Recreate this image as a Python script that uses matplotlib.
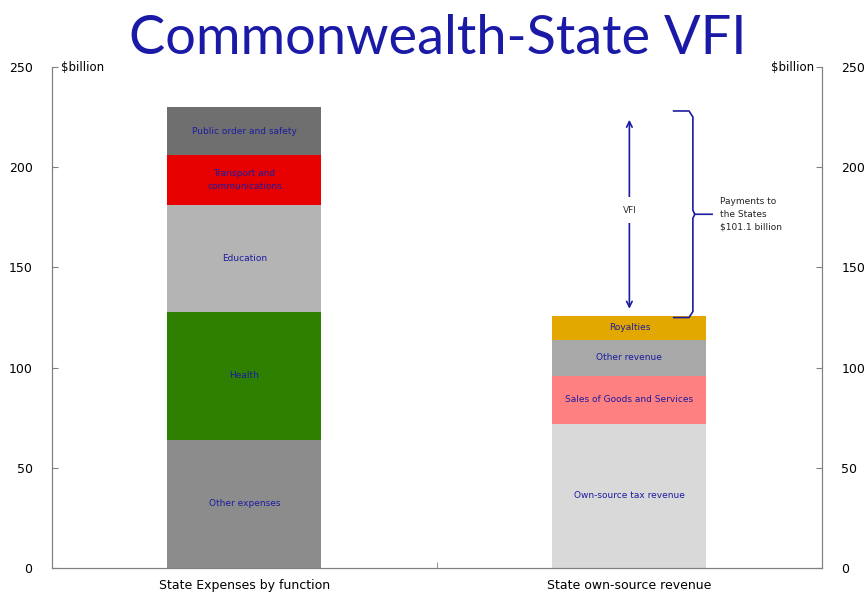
# Commonwealth-State VFI chart
import matplotlib.pyplot as plt
import numpy as np

# data ($billion)
categories = ["State Expenses by function", "State own-source revenue"]

expense_labels = ["Other expenses", "Health", "Education",
                  "Transport and\ncommunications", "Public order and safety"]
expense_values = [64, 64, 53, 25, 24]
expense_colors = ["#8c8c8c", "#2f8000", "#b4b4b4", "#e60000", "#6f6f6f"]

revenue_labels = ["Own-source tax revenue", "Sales of Goods and Services",
                  "Other revenue", "Royalties"]
revenue_values = [72, 24, 18, 12]
revenue_colors = ["#d9d9d9", "#ff8080", "#a8a8a8", "#e3a800"]

payments = 101.1

fig = plt.figure(figsize=(8.66, 5.97), dpi=100)
ax = fig.add_axes([0.060, 0.0486, 0.889, 0.839])

txt_col = "#1c1ca0"
width = 0.4

def stack(x, values, labels, colors):
    # draw one stacked bar with labels centred in each piece
    bottom = 0
    for v, lab, c in zip(values, labels, colors):
        ax.bar(x, v, width, bottom=bottom, color=c, edgecolor="none")
        ax.text(x, bottom + v / 2, lab, ha="center", va="center",
                fontsize=6.5, color=txt_col, linespacing=1.6)
        bottom += v
    return bottom

top1 = stack(0, expense_values, expense_labels, expense_colors)
top2 = stack(1, revenue_values, revenue_labels, revenue_colors)

# VFI arrow
vtop = top2 + payments
ax.annotate("", xy=(1, vtop - 2), xytext=(1, top2 + 2),
            arrowprops=dict(arrowstyle="<->", color=txt_col, lw=1.2,
                            mutation_scale=10))
ax.text(1, (top2 + vtop) / 2 + 2, "VFI", ha="center", va="center",
        fontsize=6.5, color="#333333",
        bbox=dict(facecolor="white", edgecolor="none", pad=6))

# bracket
bx = 1.165
mid = (top2 + vtop) / 2
ax.plot([bx - 0.05, bx - 0.01, bx, bx, bx + 0.005, bx + 0.05],
        [vtop + 1, vtop + 1, vtop - 2, mid + 2, mid, mid],
        color=txt_col, lw=1.2)
ax.plot([bx - 0.05, bx - 0.01, bx, bx, bx + 0.005],
        [top2 - 1, top2 - 1, top2 + 2, mid - 2, mid],
        color=txt_col, lw=1.2)
ax.text(1.235, mid, "Payments to\nthe States\n$%.1f billion" % payments,
        ha="left", va="center", fontsize=6.5, color="#222222",
        linespacing=1.6)

# axes
ax.set_xlim(-0.5, 1.5)
ax.set_ylim(0, 250)
ax.set_yticks(np.arange(0, 251, 50))
ax.set_xticks([0, 1])
ax.set_xticklabels(categories, fontsize=9)
ax.set_xticks([0.5], minor=True)
ax.tick_params(axis="x", which="major", length=0, pad=8)
ax.tick_params(axis="x", which="minor", direction="in", length=4,
               color="#808080")
ax.tick_params(axis="y", direction="in", length=4, color="#808080",
               labelsize=9, pad=14)
for s in ["top"]:
    ax.spines[s].set_visible(False)
for s in ["left", "bottom", "right"]:
    ax.spines[s].set_color("#808080")

ax2 = ax.twinx()
ax2.set_ylim(0, 250)
ax2.set_yticks(np.arange(0, 251, 50))
ax2.tick_params(axis="y", direction="in", length=4, color="#808080",
                labelsize=9, pad=14)
ax2.spines["top"].set_visible(False)
for s in ["left", "bottom", "right"]:
    ax2.spines[s].set_color("#808080")

ax.text(0.012, 1.0, "$billion", transform=ax.transAxes, ha="left",
        va="center", fontsize=8.5)
ax.text(0.99, 1.0, "$billion", transform=ax.transAxes, ha="right",
        va="center", fontsize=8.5)

fig.text(0.505, 0.935, "Commonwealth-State VFI", ha="center", va="center",
         fontsize=39, color="#1a1aa6", family="Lato")

fig.savefig("out.png", dpi=100)
